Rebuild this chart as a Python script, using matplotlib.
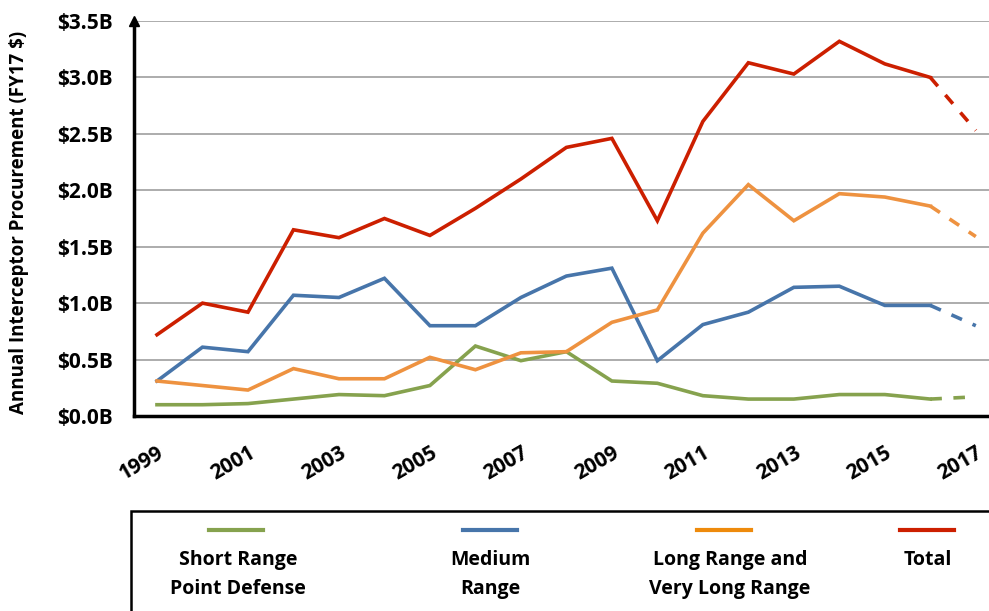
import matplotlib
matplotlib.use('Agg')
import matplotlib.pyplot as plt
from matplotlib import font_manager
from matplotlib.lines import Line2D
from matplotlib.patches import Rectangle

# pick a narrow sans font if there is one
names = {f.name for f in font_manager.fontManager.ttflist}
font = 'Liberation Sans Narrow' if 'Liberation Sans Narrow' in names else 'Open Sans'
plt.rcParams['font.family'] = [font, 'DejaVu Sans']
plt.rcParams['font.weight'] = 'bold'
plt.rcParams['axes.labelweight'] = 'bold'

# Данные (млрд $, FY17)
years = list(range(1999, 2018))
short_range = [0.10, 0.10, 0.11, 0.15, 0.19, 0.18, 0.27, 0.62, 0.49, 0.57,
               0.31, 0.29, 0.18, 0.15, 0.15, 0.19, 0.19, 0.15, 0.17]
medium_range = [0.31, 0.61, 0.57, 1.07, 1.05, 1.22, 0.80, 0.80, 1.05, 1.24,
                1.31, 0.49, 0.81, 0.92, 1.14, 1.15, 0.98, 0.98, 0.80]
long_range = [0.31, 0.27, 0.23, 0.42, 0.33, 0.33, 0.52, 0.41, 0.56, 0.57,
              0.83, 0.94, 1.62, 2.05, 1.73, 1.97, 1.94, 1.86, 1.59]
total = [0.72, 1.00, 0.92, 1.65, 1.58, 1.75, 1.60, 1.84, 2.10, 2.38,
         2.46, 1.73, 2.61, 3.13, 3.03, 3.32, 3.12, 3.00, 2.53]

series = [short_range, medium_range, long_range, total]
labels = ['Short Range\nPoint Defense', 'Medium\nRange',
          'Long Range and\nVery Long Range', 'Total']
colors = ['#86A24E', '#4775AA', '#EE9240', '#CC1F00']
legend_colors = ['#86A24E', '#4775AA', '#EE8A0C', '#CC1F00']
y_ticks = [0, 0.5, 1.0, 1.5, 2.0, 2.5, 3.0, 3.5]
x_ticks = years[::2]

W, H = 989, 611
fig = plt.figure(figsize=(W / 100, H / 100), dpi=100)
ax = fig.add_axes([134 / W, 1 - 416 / H, 1 - 134 / W, (416 - 21) / H])

for vals, c in zip(series, colors):
    ax.plot(years[:-1], vals[:-1], color=c, lw=2.6, solid_joinstyle='miter')
    ax.plot(years[-2:], vals[-2:], color=c, lw=2.6, dashes=(3.2, 3.2))

ax.set_xlim(1998.495, 2017.29)
ax.set_ylim(0, 3.5)
ax.set_yticks(y_ticks)
ax.set_yticklabels(['$%.1fB' % v for v in y_ticks])
ax.set_xticks(x_ticks)
ax.set_xticklabels([str(y) for y in x_ticks], rotation=30, ha='right',
                   va='top', rotation_mode='anchor')
ax.tick_params(axis='both', length=0, labelsize=15)
ax.tick_params(axis='y', pad=15)
ax.tick_params(axis='x', pad=19)
ax.grid(axis='y', color='#A6A6A6', lw=1.3)
ax.set_axisbelow(True)
for s in ['top', 'right']:
    ax.spines[s].set_visible(False)
for s in ['left', 'bottom']:
    ax.spines[s].set_linewidth(2.5)
    ax.spines[s].set_color('black')
ax.plot([0], [1.0], marker='^', color='black', ms=7, transform=ax.transAxes,
        clip_on=False)
ax.set_ylabel('Annual Interceptor Procurement (FY17 $)', fontsize=13.5)
ax.yaxis.set_label_coords(-105 / (W - 134), 0.49)

# легенда снизу: линии над подписями
fig.patches.append(Rectangle((131 / W, -0.1), 1, 1 - 511 / H + 0.1,
                             transform=fig.transFigure, fill=False,
                             ec='black', lw=1.8))
centers = [236, 490, 724, 927]
text_centers = [238, 490, 730, 928]
for cx, tx, lab, c in zip(centers, text_centers, labels, legend_colors):
    fig.lines.append(Line2D([(cx - 27) / W, (cx + 27) / W],
                            [1 - 530 / H, 1 - 530 / H], color=c, lw=3,
                            transform=fig.transFigure))
    fig.text(tx / W, 1 - 550 / H, lab, ha='center', va='top', fontsize=14,
             linespacing=1.6)

fig.savefig('out.png', dpi=100)
